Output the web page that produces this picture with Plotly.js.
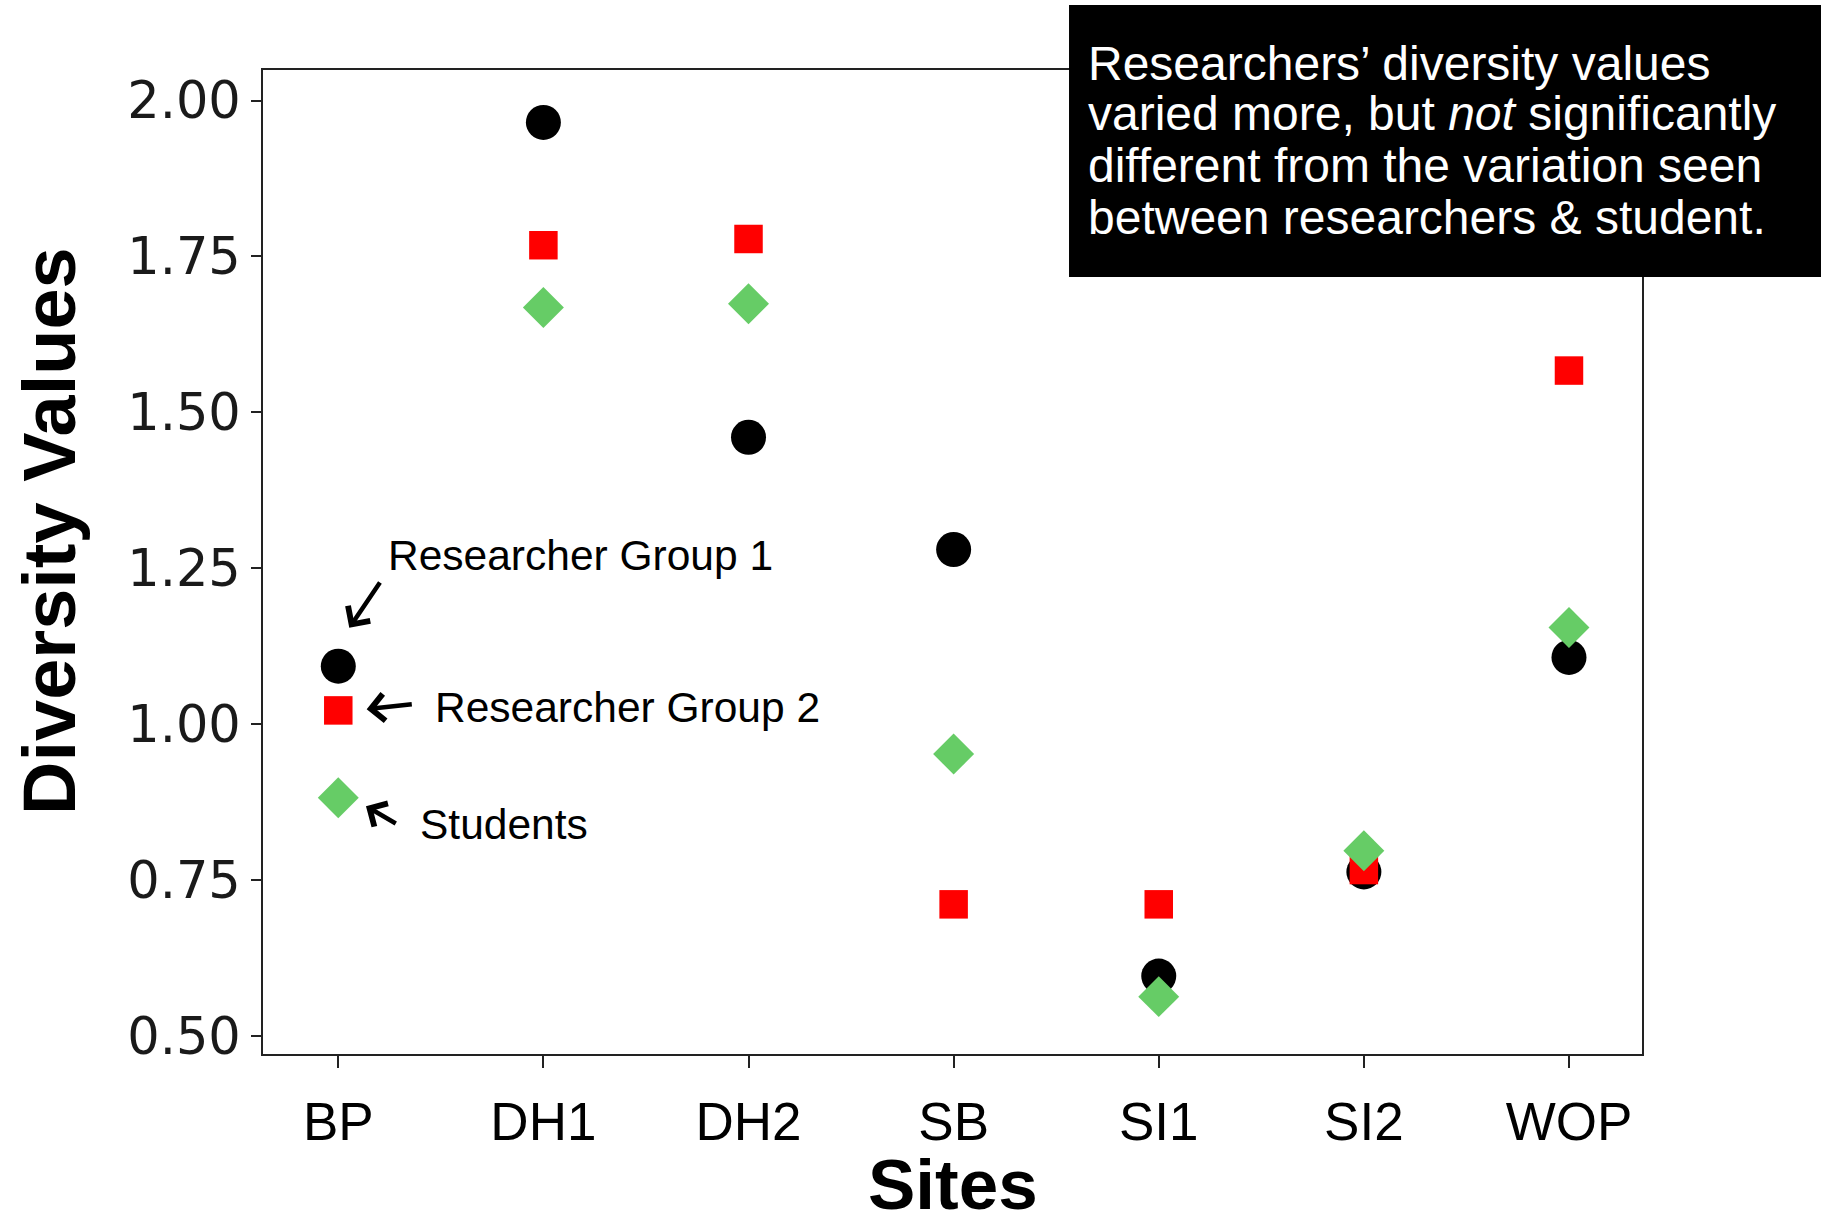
<!DOCTYPE html>
<html>
<head>
<meta charset="utf-8">
<script src="https://cdn.plot.ly/plotly-3.0.1.min.js"></script>
<style>
  html, body { margin: 0; padding: 0; background: #ffffff; }
  #chart { width: 1827px; height: 1230px; }
</style>
</head>
<body>
<div id="chart"></div>
<script>
// ---- Data ----
const sites = ["BP", "DH1", "DH2", "SB", "SI1", "SI2", "WOP"];
const researcherGroup1 = [1.093, 1.965, 1.460, 1.280, 0.596, 0.763, 1.107];
const researcherGroup2 = [1.022, 1.768, 1.778, 0.711, 0.711, 0.766, 1.567];
const students         = [0.882, 1.668, 1.674, 0.952, 0.563, 0.797, 1.155];
const yTickValues = [0.5, 0.75, 1.0, 1.25, 1.5, 1.75, 2.0];
const yTickLabels = ["0.50", "0.75", "1.00", "1.25", "1.50", "1.75", "2.00"];
const noteLines = [
  "Researchers’ diversity values",
  "varied more, but <i>not</i> significantly",
  "different from the variation seen",
  "between researchers &amp; student."
];

const traces = [
  { type: "scatter", mode: "markers", name: "Researcher Group 1", x: sites, y: researcherGroup1,
    marker: { symbol: "circle", size: 35, color: "#000000", line: { width: 0 } } },
  { type: "scatter", mode: "markers", name: "Researcher Group 2", x: sites, y: researcherGroup2,
    marker: { symbol: "square", size: 28.5, color: "#ff0000", line: { width: 0 } } },
  { type: "scatter", mode: "markers", name: "Students", x: sites, y: students,
    marker: { symbol: "diamond", size: 31.5, color: "#66cc66", line: { width: 0 } } }
];

const labelFont = { family: "Liberation Sans, Arial, sans-serif", size: 42.5, color: "#000000" };
const noteFont = { family: "Liberation Sans, Arial, sans-serif", size: 48, color: "#ffffff" };
const titleFont = { family: "Liberation Sans, Arial, sans-serif", size: 74, color: "#000000" };
const noteY = [1.0071, 0.9553, 0.9030, 0.8506];

const annotations = [
  { xref: "x", yref: "y", x: 0.2326, y: 1.2704, xanchor: "left", yanchor: "middle",
    text: "Researcher Group 1", showarrow: false, font: labelFont },
  { xref: "x", yref: "y", x: 0.463, y: 1.0273, xanchor: "left", yanchor: "middle",
    text: "Researcher Group 2", showarrow: false, font: labelFont },
  { xref: "x", yref: "y", x: 0.390, y: 0.8388, xanchor: "left", yanchor: "middle",
    text: "Students", showarrow: false, font: labelFont },
  // arrows
  { xref: "x", yref: "y", x: 0.0536, y: 1.1545, ax: 31.7, ay: -46.7, text: "",
    showarrow: true, arrowhead: 4, arrowsize: 1.15, arrowwidth: 4.5, arrowcolor: "#000000", standoff: 0 },
  { xref: "x", yref: "y", x: 0.1385, y: 1.024, ax: 46.6, ay: -5, text: "",
    showarrow: true, arrowhead: 4, arrowsize: 1.15, arrowwidth: 4.5, arrowcolor: "#000000", standoff: 0 },
  { xref: "x", yref: "y", x: 0.135, y: 0.8685, ax: 31.3, ay: 18.3, text: "",
    showarrow: true, arrowhead: 4, arrowsize: 1.15, arrowwidth: 4.5, arrowcolor: "#000000", standoff: 0 },
  // axis titles
  { xref: "paper", yref: "paper", x: -0.1552, y: 0.5315, xanchor: "center", yanchor: "middle",
    textangle: -90, text: "<b>Diversity Values</b>", showarrow: false, font: titleFont },
  { xref: "paper", yref: "paper", x: 0.5004, y: -0.1331, xanchor: "center", yanchor: "middle",
    text: "<b>Sites</b>", showarrow: false, font: { family: titleFont.family, size: 71, color: "#000000" } }
];
noteLines.forEach((t, i) => {
  annotations.push({ xref: "paper", yref: "paper", x: 0.5966, y: noteY[i], xanchor: "left", yanchor: "middle",
    text: t, showarrow: false, font: noteFont });
});

const layout = {
  width: 1827, height: 1230,
  paper_bgcolor: "#ffffff", plot_bgcolor: "#ffffff",
  margin: { l: 263, r: 185, t: 70, b: 176, pad: 0 },
  showlegend: false,
  xaxis: {
    type: "category", range: [-0.367, 6.356],
    showgrid: false, zeroline: false,
    showline: true, mirror: true, linecolor: "#222222", linewidth: 2,
    ticks: "outside", ticklen: 12, tickwidth: 2, tickcolor: "#222222",
    tickfont: { family: "Liberation Sans, Arial, sans-serif", size: 53, color: "#000000" },
    ticklabelstandoff: 8
  },
  yaxis: {
    range: [0.471, 2.049],
    tickmode: "array", tickvals: yTickValues, ticktext: yTickLabels,
    showgrid: false, zeroline: false,
    showline: true, mirror: true, linecolor: "#222222", linewidth: 2,
    ticks: "outside", ticklen: 10, tickwidth: 2, tickcolor: "#222222",
    tickfont: { family: "DejaVu Sans, Verdana, sans-serif", size: 51, color: "#1a1a1a" }
  },
  shapes: [
    { type: "rect", xref: "paper", yref: "paper", x0: 0.5845, x1: 1.1298, y0: 0.7896, y1: 1.0661,
      fillcolor: "#000000", line: { width: 0 }, layer: "above" }
  ],
  annotations: annotations
};

Plotly.newPlot("chart", traces, layout, { displayModeBar: false, staticPlot: true });
</script>
</body>
</html>
